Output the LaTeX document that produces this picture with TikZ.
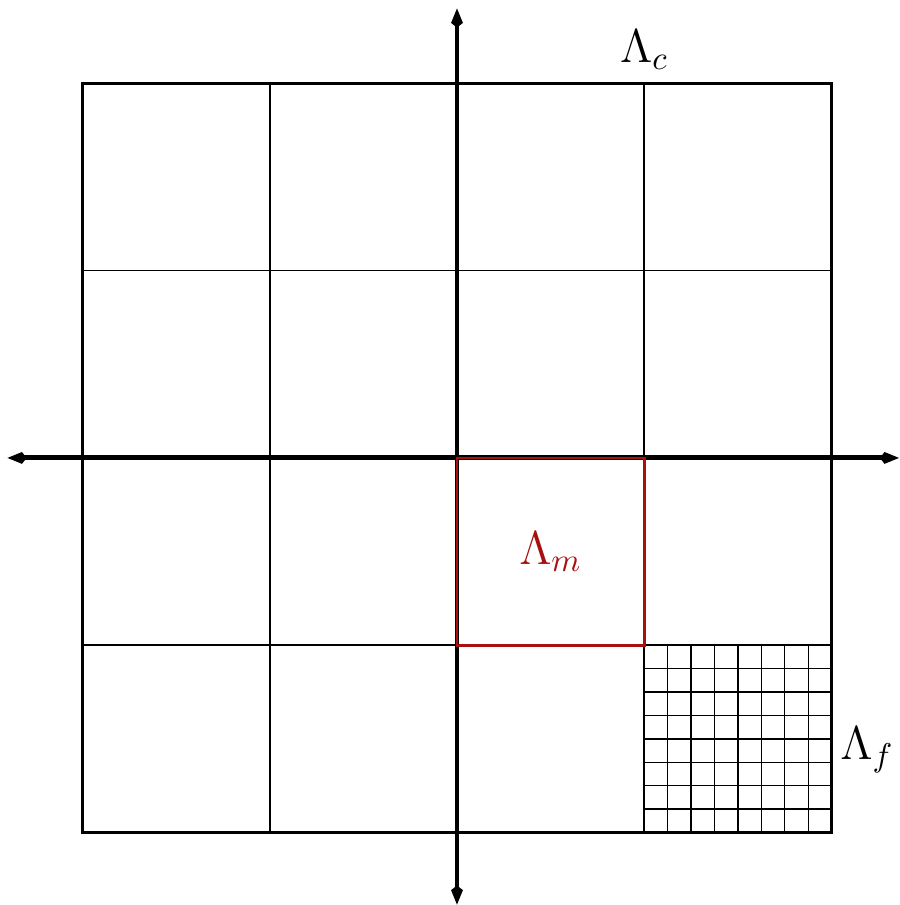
\documentclass[tikz,border=0pt]{standalone}
\usepackage{amsmath,amssymb}
\usepackage{xcolor}
\usepackage{tikz}
\usetikzlibrary{arrows.meta,positioning,calc}
\definecolor{boxred}{HTML}{A81010}
\tikzset{
  coarse/.style={line width=0.5pt, draw=black},
  outer/.style={line width=0.75pt, draw=black},
  fine/.style={line width=0.4pt, draw=black},
  axis/.style={{Kite[length=5.8pt,width=3.6pt,inset=1.4pt]}-{Kite[length=5.8pt,width=3.6pt,inset=1.4pt]},
               line width=1.5pt, draw=black},
  mbox/.style={line width=0.8pt, draw=boxred},
  lam/.style={font=\Large, inner sep=1pt},
}

\begin{document}
\begin{tikzpicture}[x=2cm,y=2cm]
\useasboundingbox (-2.44,-2.387) rectangle (2.36,2.445);

% coarse lattice
\foreach \k in {-1,0,1}{
  \draw[coarse] (\k,-2) -- (\k,2);
  \draw[coarse] (-2,\k) -- (2,\k);}
\draw[outer] (-2,-2) rectangle (2,2);

% fine lattice in one cell
\foreach \i in {1,...,7}{
  \draw[fine] (1+\i/8,-2) -- (1+\i/8,-1);
  \draw[fine] (1,-2+\i/8) -- (2,-2+\i/8);}

% axes
\coordinate (xl) at (-2.40,0);
\coordinate (xr) at (2.36,0);
\coordinate (yb) at (0,-2.385);
\coordinate (yt) at (0,2.40);
\draw[axis] (xl) -- (xr);
\draw[axis] (yb) -- (yt);

% middle cell
\draw[mbox] (0,-1) rectangle (1,0);

\node[lam] (lc) at (1.0,2.18) {$\Lambda_c$};
\node[lam, text=boxred] (lm) at (0.5,-0.5) {$\Lambda_m$};
\node[lam] (lf) at (2.19,-1.56) {$\Lambda_f$};
\end{tikzpicture}
\end{document}
